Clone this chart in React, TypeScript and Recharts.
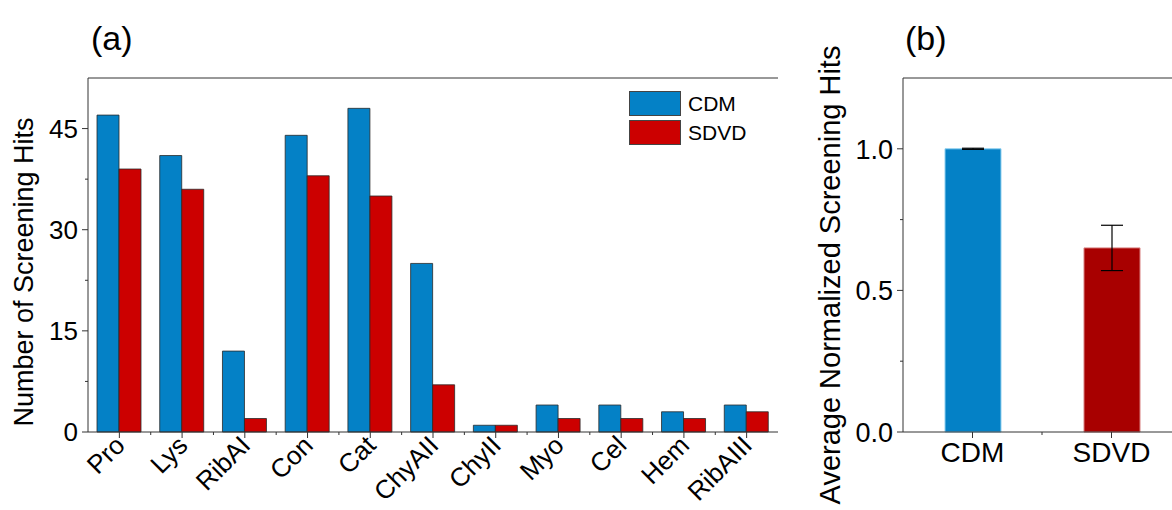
import React from "react";
import { BarChart, Bar, XAxis, YAxis, ErrorBar, Cell, Legend, ReferenceLine } from "recharts";

// panel (a): hits per protein
const proteins = ["Pro", "Lys", "RibAI", "Con", "Cat", "ChyAII", "ChyII", "Myo", "Cel", "Hem", "RibAIII"];
const cdmHits = [47, 41, 12, 44, 48, 25, 1, 4, 4, 3, 4];
const sdvdHits = [39, 36, 2, 38, 35, 7, 1, 2, 2, 2, 3];
const hitTicks = [0, 7.5, 15, 22.5, 30, 37.5, 45];

// panel (b): averaged, normalized hits
const methods = ["CDM", "SDVD"];
const normHits = [1.0, 0.65];
const normErr = [0.002, 0.08];
const normTicks = [0, 0.25, 0.5, 0.75, 1.0];

const FONT = '"Liberation Sans", Arial, sans-serif';
const AXIS = "#333";
const BLUE = "#0481c6";
const RED = "#cc0000";
const DARK_RED = "#a80000";

const dataA = proteins.map((p, i) => ({ name: p, CDM: cdmHits[i], SDVD: sdvdHits[i] }));
const dataB = methods.map((m, i) => ({ name: m, value: normHits[i], err: normErr[i] }));

const BAND_A = 690 / proteins.length;
const BAND_B = 278 / methods.length;

function YTickA({ x, y, payload }: any) {
  const major = payload.value % 15 === 0;
  return (
    <g>
      <line x1={x} x2={x - (major ? 6 : 3)} y1={y} y2={y} stroke={AXIS} />
      {major && (
        <text x={x - 10} y={y} dy="0.36em" textAnchor="end" fontSize={26} fill="#000">
          {payload.value}
        </text>
      )}
    </g>
  );
}

function XTickA({ x, y, payload, index }: any) {
  const px = x + 7;
  const py = y + 15;
  return (
    <g>
      <line x1={x} x2={x} y1={y} y2={y + 6} stroke={AXIS} />
      {index < proteins.length - 1 && (
        <line x1={x + BAND_A / 2} x2={x + BAND_A / 2} y1={y} y2={y + 3} stroke={AXIS} />
      )}
      <text x={px} y={py} transform={`rotate(-45 ${px} ${py})`} textAnchor="end" fontSize={26} fill="#000">
        {payload.value}
      </text>
    </g>
  );
}

function YTickB({ x, y, payload }: any) {
  const major = Math.abs(payload.value * 2 - Math.round(payload.value * 2)) < 1e-6;
  return (
    <g>
      <line x1={x} x2={x - (major ? 6 : 3)} y1={y} y2={y} stroke={AXIS} />
      {major && (
        <text x={x - 10} y={y} dy="0.36em" textAnchor="end" fontSize={27} fill="#000">
          {payload.value.toFixed(1)}
        </text>
      )}
    </g>
  );
}

function XTickB({ x, y, payload, index }: any) {
  return (
    <g>
      <line x1={x} x2={x} y1={y} y2={y + 6} stroke={AXIS} />
      {index < methods.length - 1 && (
        <line x1={x + BAND_B / 2} x2={x + BAND_B / 2} y1={y} y2={y + 3} stroke={AXIS} />
      )}
      <text x={x} y={y + 30} textAnchor="middle" fontSize={28} fill="#000">
        {payload.value}
      </text>
    </g>
  );
}

function LegendBox({ payload }: any) {
  return (
    <div style={{ display: "flex", flexDirection: "column", gap: 4 }}>
      {(payload || []).map((p: any) => (
        <div key={p.value} style={{ display: "flex", alignItems: "center", height: 25 }}>
          <span
            style={{
              width: 52,
              height: 25,
              background: p.color,
              border: "1px solid #444",
              boxSizing: "border-box",
              display: "inline-block",
            }}
          />
          <span style={{ marginLeft: 7, fontSize: 21, fontFamily: FONT, color: "#000" }}>{p.value}</span>
        </div>
      ))}
    </div>
  );
}

const rotLabel = (left: number, top: number, size: number): React.CSSProperties => ({
  position: "absolute",
  left,
  top,
  transform: "translate(-50%, -50%) rotate(-90deg)",
  whiteSpace: "nowrap",
  fontSize: size,
  lineHeight: 1,
});

export default function App() {
  return (
    <div
      style={{
        position: "absolute",
        left: 0,
        top: 0,
        width: 1172,
        height: 510,
        overflow: "hidden",
        background: "#fff",
        fontFamily: FONT,
      }}
    >
      <div style={{ position: "absolute", left: 91, top: 21, fontSize: 34, lineHeight: 1 }}>(a)</div>
      <div style={{ position: "absolute", left: 905, top: 21, fontSize: 34, lineHeight: 1 }}>(b)</div>
      <div style={rotLabel(24, 272, 27)}>Number of Screening Hits</div>
      <div style={rotLabel(830, 275, 29)}>Average Normalized Screening Hits</div>

      <div style={{ position: "absolute", left: 0, top: 0 }}>
        <BarChart
          width={790}
          height={510}
          data={dataA}
          margin={{ top: 78, right: 12, bottom: 8, left: 28 }}
          barGap={0}
        >
          <XAxis
            dataKey="name"
            height={70}
            interval={0}
            tickSize={0}
            tickMargin={0}
            tickLine={false}
            axisLine={{ stroke: AXIS }}
            tick={<XTickA />}
          />
          <YAxis
            width={60}
            domain={[0, 52.5]}
            ticks={hitTicks}
            interval={0}
            tickSize={0}
            tickMargin={0}
            tickLine={false}
            axisLine={{ stroke: AXIS }}
            tick={<YTickA />}
          />
          <YAxis yAxisId="right" orientation="right" width={0} tick={false} tickLine={false} axisLine={{ stroke: AXIS }} />
          <ReferenceLine y={52.5} stroke={AXIS} />
          <Legend
            layout="vertical"
            align="center"
            verticalAlign="middle"
            wrapperStyle={{ left: 629, top: 91, width: 140 }}
            content={<LegendBox />}
          />
          <Bar dataKey="CDM" name="CDM" fill={BLUE} stroke="#2a2a2a" strokeWidth={0.8} barSize={22} isAnimationActive={false} />
          <Bar dataKey="SDVD" name="SDVD" fill={RED} stroke="#2a2a2a" strokeWidth={0.8} barSize={22} isAnimationActive={false} />
        </BarChart>
      </div>

      <div style={{ position: "absolute", left: 790, top: 0 }}>
        <BarChart width={391} height={510} data={dataB} margin={{ top: 78, right: 0, bottom: 8, left: 43 }}>
          <XAxis
            dataKey="name"
            height={70}
            interval={0}
            tickSize={0}
            tickMargin={0}
            tickLine={false}
            axisLine={{ stroke: AXIS }}
            tick={<XTickB />}
          />
          <YAxis
            width={70}
            domain={[0, 1.25]}
            ticks={normTicks}
            interval={0}
            tickSize={0}
            tickMargin={0}
            tickLine={false}
            axisLine={{ stroke: AXIS }}
            tick={<YTickB />}
          />
          <ReferenceLine y={1.25} stroke={AXIS} />
          <Bar dataKey="value" barSize={56} isAnimationActive={false}>
            {dataB.map((d, i) => (
              <Cell key={d.name} fill={i === 0 ? BLUE : DARK_RED} stroke={i === 0 ? "#8fd0f0" : "#d88080"} strokeWidth={1} />
            ))}
            <ErrorBar dataKey="err" width={11} stroke="#000" strokeWidth={1.2} direction="y" isAnimationActive={false} />
          </Bar>
        </BarChart>
      </div>
    </div>
  );
}
